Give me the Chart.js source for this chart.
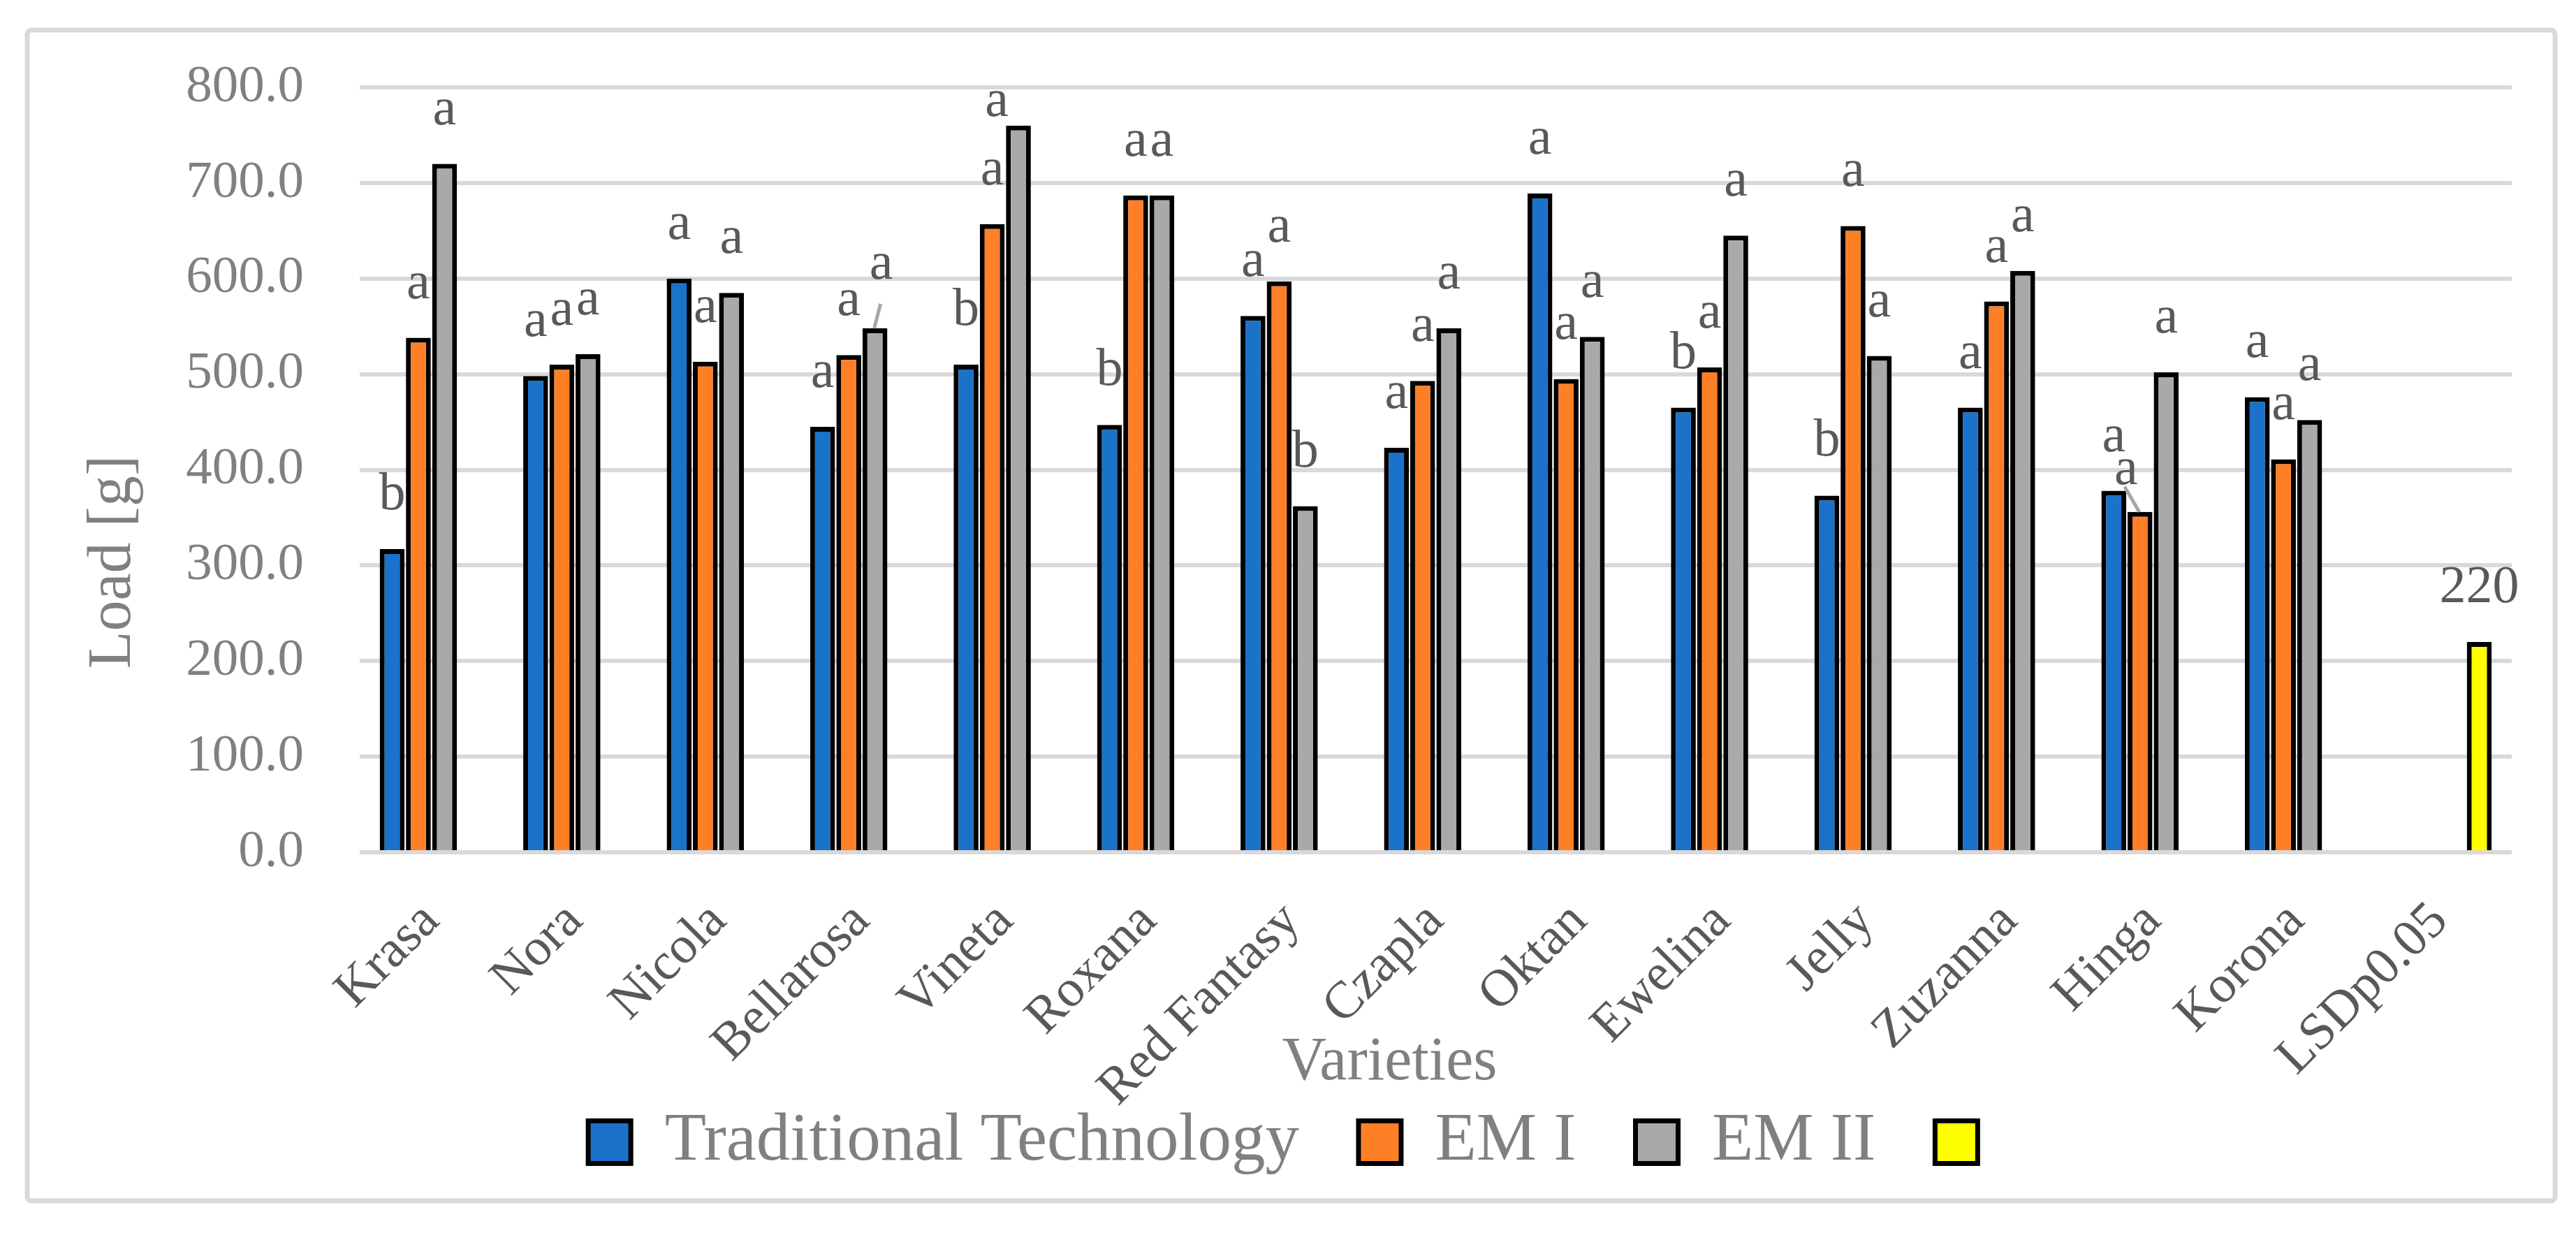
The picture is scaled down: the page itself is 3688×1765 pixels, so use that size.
<!DOCTYPE html>
<html>
<head>
<meta charset="utf-8">
<script src="https://cdn.jsdelivr.net/npm/chart.js@4.4.1/dist/chart.umd.min.js"></script>
<style>
  html, body { margin: 0; padding: 0; background: #ffffff; overflow: hidden; }
  #wrap { position: relative; width: 3688px; height: 1765px; }
</style>
</head>
<body>
<div id="wrap"><canvas id="c"></canvas></div>
<script>
// ---- data ----
const varieties = ['Krasa','Nora','Nicola','Bellarosa','Vineta','Roxana','Red Fantasy','Czapla','Oktan','Ewelina','Jelly','Zuzanna','Hinga','Korona','LSDp0.05'];
const traditionalValues = [317, 498, 600, 445, 510, 447, 561, 423, 689, 465, 373, 465, 378, 476, null];
const em1Values         = [538, 510, 513, 520, 657, 687, 597, 493, 495, 507, 655, 576, 356, 411, null];
const em2Values         = [720, 521, 585, 548, 760, 687, 362, 548, 539, 645, 519, 608, 502, 452, null];
const lsdValues         = [null, null, null, null, null, null, null, null, null, null, null, null, null, null, 220];

const traditionalLetters = ['b','a','a','a','b','b','a','a','a','b','b','a','a','a',''];
const em1Letters         = ['a','a','a','a','a','a','a','a','a','a','a','a','a','a',''];
const em2Letters         = ['a','a','a','a','a','a','b','a','a','a','a','a','a','a',''];
const lsdLetters         = ['','','','','','','','','','','','','','','220'];

const seriesNames = ['Traditional Technology', 'EM I', 'EM II', ''];
const yTicksMin = 0, yTicksMax = 800, yTicksStep = 100;

// ---- styling ----
const FONT = "'Liberation Serif', 'Times New Roman', serif";
const colors = ['#1a72c9', '#ff7f27', '#a9a9a9', '#ffff00'];
const letterSets = [traditionalLetters, em1Letters, em2Letters, lsdLetters];
// manual placement tweaks of some significance letters (pixels), like moved labels in the original
const labelNudges = [
  { ds: 2, idx: 3,  dx: 9,   dy: -14, leader: { lx: -1, ly: 36, bx: -1 } },
  { ds: 2, idx: 4,  dx: -31, dy: 43 },
  { ds: 1, idx: 12, dx: -20, dy: 17,  leader: { lx: -2, ly: 4, bx: -1 } }
];

Chart.defaults.font.family = FONT;

const framePlugin = {
  id: 'frame',
  beforeDraw(chart) {
    const ctx = chart.ctx;
    ctx.save();
    ctx.fillStyle = '#ffffff';
    ctx.fillRect(0, 0, chart.width, chart.height);
    ctx.strokeStyle = '#d9d9d9';
    ctx.lineWidth = 7;
    const x = 39, y = 43, w = 3658 - 39, h = 1719 - 43, r = 6;
    ctx.beginPath();
    ctx.moveTo(x + r, y);
    ctx.lineTo(x + w - r, y); ctx.arcTo(x + w, y, x + w, y + r, r);
    ctx.lineTo(x + w, y + h - r); ctx.arcTo(x + w, y + h, x + w - r, y + h, r);
    ctx.lineTo(x + r, y + h); ctx.arcTo(x, y + h, x, y + h - r, r);
    ctx.lineTo(x, y + r); ctx.arcTo(x, y, x + r, y, r);
    ctx.closePath();
    ctx.stroke();
    ctx.restore();
    // let the rotated category labels run below the (forced) axis box, as in the original
    const xs = chart.scales.x;
    if (xs) xs._computeLabelArea = function () { return undefined; };
  }
};

const letterPlugin = {
  id: 'letters',
  afterDatasetsDraw(chart) {
    const ctx = chart.ctx;
    ctx.save();
    ctx.font = "76px " + FONT;
    ctx.textAlign = 'center';
    ctx.textBaseline = 'alphabetic';
    chart.data.datasets.forEach((ds, di) => {
      const meta = chart.getDatasetMeta(di);
      const letters = letterSets[di];
      meta.data.forEach((bar, i) => {
        const txt = letters[i];
        if (!txt || ds.data[i] == null) return;
        const n = labelNudges.find(o => o.ds === di && o.idx === i) || { dx: 0, dy: 0 };
        const x = bar.x + n.dx;
        const y = bar.y - 57 + n.dy;
        if (n.leader) {
          ctx.strokeStyle = '#a6a6a6';
          ctx.lineWidth = 5;
          ctx.beginPath();
          ctx.moveTo(x + n.leader.lx, y + n.leader.ly);
          ctx.lineTo(bar.x + n.leader.bx, bar.y);
          ctx.stroke();
        }
        ctx.fillStyle = '#595959';
        ctx.fillText(txt, x, y);
      });
    });
    ctx.restore();
  }
};

const NB = '\u00A0';
new Chart(document.getElementById('c'), {
  type: 'bar',
  data: {
    labels: varieties,
    datasets: [traditionalValues, em1Values, em2Values, lsdValues].map((vals, k) => ({
      label: seriesNames[k],
      data: vals,
      backgroundColor: colors[k],
      borderColor: '#000000',
      borderWidth: 7,
      borderSkipped: 'bottom',
      categoryPercentage: 0.73,
      barPercentage: 0.95
    }))
  },
  options: {
    responsive: true,
    maintainAspectRatio: false,
    animation: false,
    layout: { padding: { left: 126, right: 92, top: 124, bottom: 71.5 } },
    plugins: {
      legend: {
        position: 'bottom',
        labels: {
          font: { size: 97, family: FONT },
          color: '#808080',
          boxWidth: 61,
          boxHeight: 61,
          padding: 85
        }
      },
      tooltip: { enabled: false }
    },
    scales: {
      x: {
        grid: { display: false, drawTicks: false },
        border: { display: false },
        ticks: {
          autoSkip: false,
          minRotation: 45,
          maxRotation: 45,
          padding: 55,
          color: '#595959',
          font: { size: 75, family: FONT }
        },
        title: {
          display: true,
          text: 'Varieties' + NB.repeat(6),
          color: '#808080',
          font: { size: 88, family: FONT },
          padding: { top: 0, bottom: -73 }
        },
        afterFit(scale) { scale.height = 281.5; }
      },
      y: {
        min: yTicksMin,
        max: yTicksMax,
        grid: { color: '#d9d9d9', lineWidth: 6, drawTicks: false },
        border: { display: false },
        ticks: {
          stepSize: yTicksStep,
          padding: 80,
          color: '#808080',
          font: { size: 75, family: FONT },
          callback: v => Number(v).toFixed(1)
        },
        title: {
          display: true,
          text: 'Load [g]' + NB.repeat(12),
          color: '#808080',
          font: { size: 88, family: FONT },
          padding: { top: -16, bottom: 0 }
        },
        afterFit(scale) { scale.width = 389; }
      }
    }
  },
  plugins: [framePlugin, letterPlugin]
});
</script>
</body>
</html>
